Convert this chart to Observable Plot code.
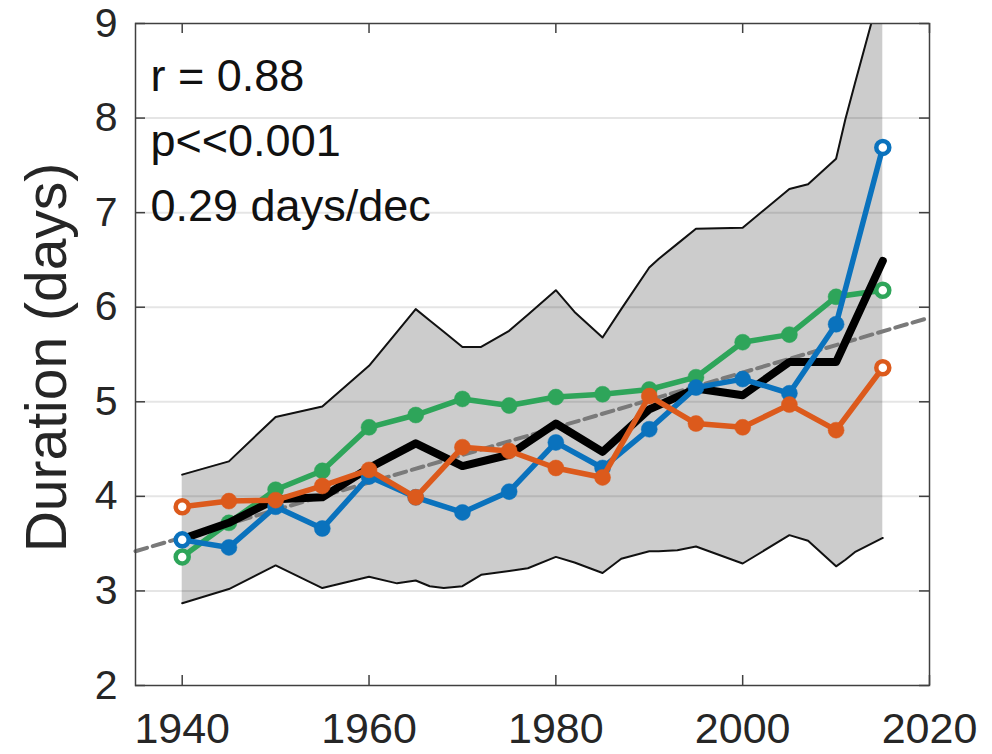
<!DOCTYPE html>
<html><head><meta charset="utf-8">
<script src="https://cdn.jsdelivr.net/npm/d3@7"></script>
<script src="https://cdn.jsdelivr.net/npm/@observablehq/plot@0.6"></script>
<style>
body{margin:0;background:#fff}
svg{font-family:"Liberation Sans",Arial,Helvetica,sans-serif}
</style>
</head><body><div id="chart"></div>
<script>
// ---- data ----
const years = [1940,1945,1950,1955,1960,1965,1970,1975,1980,1985,1990,1995,2000,2005,2010,2015];
const meanSeries   = [3.55,3.72,3.97,3.99,4.30,4.56,4.32,4.44,4.77,4.47,4.92,5.14,5.07,5.42,5.42,6.49];
const greenSeries  = [3.36,3.72,4.07,4.27,4.73,4.86,5.03,4.96,5.05,5.08,5.13,5.26,5.63,5.71,6.11,6.18];
const blueSeries   = [3.54,3.46,3.89,3.66,4.21,3.99,3.83,4.05,4.57,4.30,4.71,5.15,5.24,5.09,5.82,7.69];
const orangeSeries = [3.89,3.95,3.96,4.11,4.28,3.99,4.52,4.48,4.30,4.20,5.06,4.77,4.73,4.97,4.70,5.36];

const bandYears = [1940,1945,1950,1955,1960,1963,1965,1966.5,1968,1970,1972,1975,1977,1980,1982,1985,1987,1990,1991,1993,1995,2000,2005,2007,2010,2011,2012,2015];
const bandUpper = [4.23,4.37,4.84,4.95,5.38,5.74,5.98,5.86,5.74,5.58,5.58,5.75,5.92,6.18,5.95,5.68,5.98,6.42,6.51,6.67,6.83,6.84,7.25,7.30,7.57,7.99,8.36,9.45];
const bandLower = [2.87,3.02,3.27,3.03,3.15,3.08,3.11,3.05,3.03,3.05,3.17,3.21,3.24,3.36,3.30,3.19,3.34,3.42,3.42,3.43,3.47,3.29,3.59,3.53,3.26,3.33,3.41,3.56];

const trendYears  = [1935, 2020];
const trendValues = [3.42, 5.89];

const xTicks = [1940, 1960, 1980, 2000, 2020];
const yTicks = [2, 3, 4, 5, 6, 7, 8, 9];
const gridTicks = [3, 4, 5, 6, 7, 8];
const yLabel = "Duration (days)";
const annotation = ["r = 0.88", "p<<0.001", "0.29 days/dec"];

// ---- tables ----
const toRows = vals => years.map((year, i) => ({year, value: vals[i]}));
const band = bandYears.map((year, i) => ({year, lo: bandLower[i], hi: bandUpper[i]}));
const trend = trendYears.map((year, i) => ({year, value: trendValues[i]}));

const colors = {mean: "#000000", green: "#2ea55a", blue: "#0a72bd", orange: "#dc5a1c"};

function seriesMarks(vals, color) {
  const rows = toRows(vals);
  const ends = [rows[0], rows[rows.length - 1]];
  return [
    Plot.lineY(rows, {x: "year", y: "value", stroke: color, strokeWidth: 5.5, strokeLinejoin: "round"}),
    Plot.dot(rows.slice(1, -1), {x: "year", y: "value", r: 8, fill: color, stroke: color, strokeWidth: 0.5}),
    Plot.dot(ends, {x: "year", y: "value", r: 6.5, fill: "white", stroke: color, strokeWidth: 4.5})
  ];
}

const chart = Plot.plot({
  width: 992,
  height: 754,
  marginLeft: 135,
  marginRight: 63,
  marginTop: 23,
  marginBottom: 69,
  style: {background: "white", color: "#262626", fontFamily: "Liberation Sans, Arial, sans-serif"},
  x: {domain: [1935, 2020]},
  y: {domain: [2, 9]},
  marks: [
    Plot.areaY(band, {x: "year", y1: "lo", y2: "hi", fill: "#cccccc", clip: true}),
    Plot.ruleY(gridTicks, {stroke: "black", strokeOpacity: 0.1, strokeWidth: 2}),
    Plot.lineY(band, {x: "year", y: "hi", stroke: "#111", strokeWidth: 2, clip: true}),
    Plot.lineY(band, {x: "year", y: "lo", stroke: "#111", strokeWidth: 2}),
    Plot.lineY(trend, {x: "year", y: "value", stroke: "#7a7a7a", strokeWidth: 4, strokeDasharray: "12,6"}),
    ...seriesMarks(greenSeries, colors.green),
    Plot.lineY(toRows(meanSeries), {x: "year", y: "value", stroke: colors.mean, strokeWidth: 8}),
    ...seriesMarks(blueSeries, colors.blue),
    ...seriesMarks(orangeSeries, colors.orange),
    Plot.frame({stroke: "#404040", strokeWidth: 1.5}),
    // inside ticks
    Plot.tickX(xTicks, {x: d => d, insetTop: 652, stroke: "#404040", strokeWidth: 1.5}),
    Plot.tickX(xTicks, {x: d => d, insetBottom: 652, stroke: "#404040", strokeWidth: 1.5}),
    Plot.tickY(yTicks, {y: d => d, insetRight: 784, stroke: "#404040", strokeWidth: 1.5}),
    Plot.tickY(yTicks, {y: d => d, insetLeft: 784, stroke: "#404040", strokeWidth: 1.5}),
    // tick labels
    Plot.axisX(xTicks, {tickSize: 0, tickPadding: 27, fontSize: 43, label: null, tickFormat: d => String(d), fill: "#262626"}),
    Plot.axisY(yTicks, {tickSize: 0, tickPadding: 18, fontSize: 41, label: null, tickFormat: d => String(d), fill: "#262626"}),
    // axis title
    Plot.text([yLabel], {text: d => d, frameAnchor: "left", dx: -88, dy: 3, rotate: -90, fontSize: 57, textAnchor: "middle", lineAnchor: "middle", fill: "#262626"}),
    // annotation
    Plot.text([annotation.join("\n")], {text: d => d, frameAnchor: "top-left", dx: 15, dy: 21, lineAnchor: "top", textAnchor: "start", fontSize: 45, lineHeight: 1.45, fill: "#111"})
  ]
});
document.getElementById("chart").append(chart);
</script>
</body></html>
